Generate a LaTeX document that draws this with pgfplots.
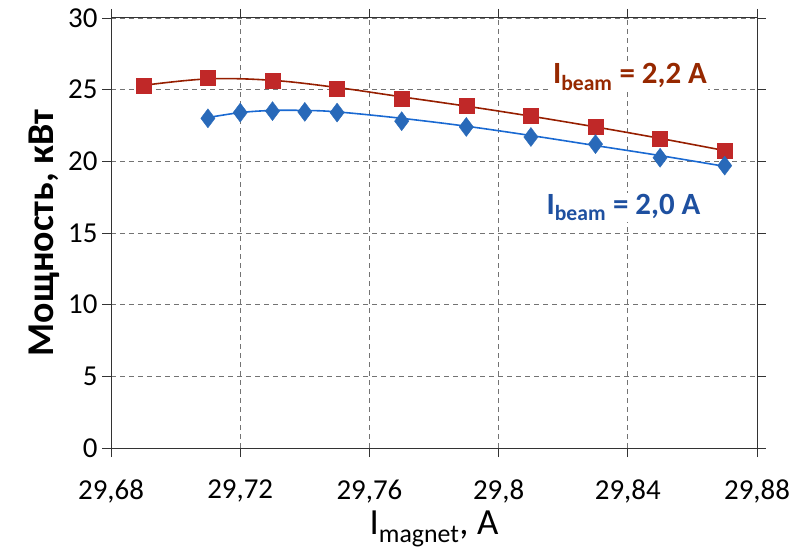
\documentclass[border=0pt]{standalone}
\usepackage{fontspec}
\setmainfont{Carlito}
\usepackage{pgfplots}
\pgfplotsset{compat=1.18}
\definecolor{redline}{RGB}{150,30,0}
\definecolor{redmark}{RGB}{192,40,40}
\definecolor{bluemark}{RGB}{40,105,185}
\definecolor{blueline}{RGB}{25,105,210}
\definecolor{redtext}{RGB}{150,40,0}
\definecolor{bluetext}{RGB}{30,80,160}
\begin{document}
\begin{tikzpicture}
\useasboundingbox (-111bp,-107bp) rectangle (698bp,448bp);
\begin{axis}[
  at={(0,0)}, anchor=origin,
  scale only axis,
  width=646bp, height=430bp,
  xmin=29.68, xmax=29.88,
  ymin=0, ymax=30,
  xtick={29.68,29.72,29.76,29.8,29.84,29.88},
  ytick={0,5,10,15,20,25,30},
  xticklabels={29{,}68,29{,}72,29{,}76,29{,}8,29{,}84,29{,}88},
  tick align=outside,
  major tick length=9bp,
  tick style={black!80, line width=0.9pt},
  axis line style={black!80, line width=1pt},
  grid=major,
  major grid style={dash pattern=on 5bp off 4bp, black!55, line width=0.9pt},
  tick label style={font=\fontsize{29}{32}\selectfont},
  /pgf/number format/assume math mode=true,
  xticklabel style={yshift=-19bp},
  yticklabel style={xshift=-1bp},
  ylabel={\bfseries Мощность, кВт},
  ylabel style={font=\fontsize{38}{42}\selectfont, yshift=2bp},
  xlabel={I\textsubscript{magnet}, A},
  xlabel style={font=\fontsize{37}{40}\selectfont, yshift=-1bp},
  clip=false,
]
% trend lines
\addplot[redline, line width=1.6pt, smooth, tension=0.6]
coordinates {
(29.69,25.3) (29.71,25.75) (29.73,25.65) (29.75,25.15) (29.77,24.5)
(29.79,23.85) (29.81,23.15) (29.83,22.4) (29.85,21.6) (29.87,20.75)
};
\addplot[blueline, line width=1.6pt, smooth, tension=0.6]
coordinates {
(29.71,23.05) (29.72,23.4) (29.73,23.55) (29.74,23.55) (29.75,23.45)
(29.77,23.0) (29.79,22.45) (29.81,21.8) (29.83,21.1) (29.85,20.4) (29.87,19.65)
};
% data markers
\addplot[only marks, mark=square*, mark size=7.5bp,
  mark options={fill=redmark, draw=redmark}]
coordinates {
(29.69,25.3) (29.71,25.8) (29.73,25.6) (29.75,25.1) (29.77,24.4)
(29.79,23.9) (29.81,23.2) (29.83,22.4) (29.85,21.6) (29.87,20.75)
};
\addplot[only marks, mark=diamond*, mark size=9.5bp,
  mark options={fill=bluemark, draw=bluemark}]
coordinates {
(29.71,23.0) (29.72,23.4) (29.73,23.5) (29.74,23.45) (29.75,23.4)
(29.77,22.8) (29.79,22.4) (29.81,21.7) (29.83,21.2) (29.85,20.25) (29.87,19.7)
};
\node[anchor=base west, fill=white, inner sep=1bp, text=redtext,
  font=\bfseries\fontsize{31}{34}\selectfont]
  at (axis cs:29.8165,25.4) {I\textsubscript{beam} = 2,2 A};
\node[anchor=base west, fill=white, inner sep=1bp, text=bluetext,
  font=\bfseries\fontsize{31}{34}\selectfont]
  at (axis cs:29.8145,16.3) {I\textsubscript{beam} = 2,0 A};
\end{axis}
\end{tikzpicture}
\end{document}
